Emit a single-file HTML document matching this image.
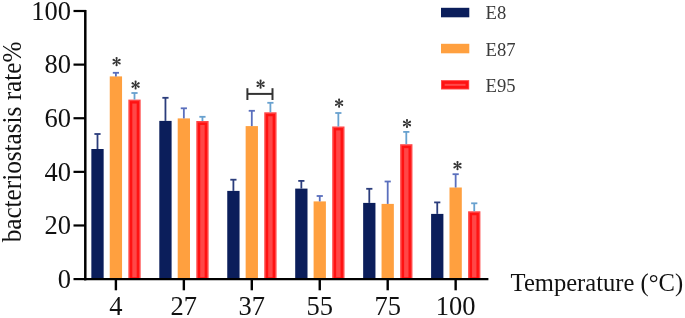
<!DOCTYPE html>
<html><head><meta charset="utf-8"><style>
html,body{margin:0;padding:0;background:#fff;width:685px;height:318px;overflow:hidden}
svg{display:block;font-family:"Liberation Serif",serif;will-change:transform}
</style></head><body>
<svg width="685" height="318" viewBox="0 0 685 318">
<rect x="91.35" y="149.00" width="12.3" height="130.10" fill="#0b1e5b"/>
<line x1="97.50" y1="134.00" x2="97.50" y2="149.00" stroke="#2b3d7c" stroke-width="1.8"/>
<line x1="94.40" y1="134.00" x2="100.60" y2="134.00" stroke="#2b3d7c" stroke-width="1.8"/>
<rect x="109.75" y="76.40" width="12.3" height="202.70" fill="#ffa03f"/>
<line x1="115.90" y1="72.80" x2="115.90" y2="76.40" stroke="#5a6fbd" stroke-width="1.8"/>
<line x1="112.80" y1="72.80" x2="119.00" y2="72.80" stroke="#5a6fbd" stroke-width="1.8"/>
<rect x="128.35" y="99.60" width="12.3" height="179.50" fill="#ff4747"/>
<rect x="131.10" y="102.35" width="6.80" height="176.15" fill="none" stroke="#ff1212" stroke-width="2.4"/>
<line x1="134.50" y1="93.00" x2="134.50" y2="99.60" stroke="#68a1cf" stroke-width="1.8"/>
<line x1="131.40" y1="93.00" x2="137.60" y2="93.00" stroke="#68a1cf" stroke-width="1.8"/>
<rect x="159.30" y="120.90" width="12.3" height="158.20" fill="#0b1e5b"/>
<line x1="165.45" y1="97.80" x2="165.45" y2="120.90" stroke="#2b3d7c" stroke-width="1.8"/>
<line x1="162.35" y1="97.80" x2="168.55" y2="97.80" stroke="#2b3d7c" stroke-width="1.8"/>
<rect x="177.70" y="118.40" width="12.3" height="160.70" fill="#ffa03f"/>
<line x1="183.85" y1="108.30" x2="183.85" y2="118.40" stroke="#5a6fbd" stroke-width="1.8"/>
<line x1="180.75" y1="108.30" x2="186.95" y2="108.30" stroke="#5a6fbd" stroke-width="1.8"/>
<rect x="196.30" y="121.00" width="12.3" height="158.10" fill="#ff4747"/>
<rect x="199.05" y="123.75" width="6.80" height="154.75" fill="none" stroke="#ff1212" stroke-width="2.4"/>
<line x1="202.45" y1="116.80" x2="202.45" y2="121.00" stroke="#68a1cf" stroke-width="1.8"/>
<line x1="199.35" y1="116.80" x2="205.55" y2="116.80" stroke="#68a1cf" stroke-width="1.8"/>
<rect x="227.25" y="190.90" width="12.3" height="88.20" fill="#0b1e5b"/>
<line x1="233.40" y1="179.70" x2="233.40" y2="190.90" stroke="#2b3d7c" stroke-width="1.8"/>
<line x1="230.30" y1="179.70" x2="236.50" y2="179.70" stroke="#2b3d7c" stroke-width="1.8"/>
<rect x="245.65" y="126.10" width="12.3" height="153.00" fill="#ffa03f"/>
<line x1="251.80" y1="110.80" x2="251.80" y2="126.10" stroke="#5a6fbd" stroke-width="1.8"/>
<line x1="248.70" y1="110.80" x2="254.90" y2="110.80" stroke="#5a6fbd" stroke-width="1.8"/>
<rect x="264.25" y="112.30" width="12.3" height="166.80" fill="#ff4747"/>
<rect x="267.00" y="115.05" width="6.80" height="163.45" fill="none" stroke="#ff1212" stroke-width="2.4"/>
<line x1="270.40" y1="102.80" x2="270.40" y2="112.30" stroke="#68a1cf" stroke-width="1.8"/>
<line x1="267.30" y1="102.80" x2="273.50" y2="102.80" stroke="#68a1cf" stroke-width="1.8"/>
<rect x="295.20" y="188.60" width="12.3" height="90.50" fill="#0b1e5b"/>
<line x1="301.35" y1="180.90" x2="301.35" y2="188.60" stroke="#2b3d7c" stroke-width="1.8"/>
<line x1="298.25" y1="180.90" x2="304.45" y2="180.90" stroke="#2b3d7c" stroke-width="1.8"/>
<rect x="313.60" y="201.40" width="12.3" height="77.70" fill="#ffa03f"/>
<line x1="319.75" y1="196.00" x2="319.75" y2="201.40" stroke="#5a6fbd" stroke-width="1.8"/>
<line x1="316.65" y1="196.00" x2="322.85" y2="196.00" stroke="#5a6fbd" stroke-width="1.8"/>
<rect x="332.20" y="126.50" width="12.3" height="152.60" fill="#ff4747"/>
<rect x="334.95" y="129.25" width="6.80" height="149.25" fill="none" stroke="#ff1212" stroke-width="2.4"/>
<line x1="338.35" y1="113.00" x2="338.35" y2="126.50" stroke="#68a1cf" stroke-width="1.8"/>
<line x1="335.25" y1="113.00" x2="341.45" y2="113.00" stroke="#68a1cf" stroke-width="1.8"/>
<rect x="363.15" y="202.90" width="12.3" height="76.20" fill="#0b1e5b"/>
<line x1="369.30" y1="188.80" x2="369.30" y2="202.90" stroke="#2b3d7c" stroke-width="1.8"/>
<line x1="366.20" y1="188.80" x2="372.40" y2="188.80" stroke="#2b3d7c" stroke-width="1.8"/>
<rect x="381.55" y="203.90" width="12.3" height="75.20" fill="#ffa03f"/>
<line x1="387.70" y1="181.50" x2="387.70" y2="203.90" stroke="#5a6fbd" stroke-width="1.8"/>
<line x1="384.60" y1="181.50" x2="390.80" y2="181.50" stroke="#5a6fbd" stroke-width="1.8"/>
<rect x="400.15" y="144.20" width="12.3" height="134.90" fill="#ff4747"/>
<rect x="402.90" y="146.95" width="6.80" height="131.55" fill="none" stroke="#ff1212" stroke-width="2.4"/>
<line x1="406.30" y1="131.90" x2="406.30" y2="144.20" stroke="#68a1cf" stroke-width="1.8"/>
<line x1="403.20" y1="131.90" x2="409.40" y2="131.90" stroke="#68a1cf" stroke-width="1.8"/>
<rect x="431.10" y="213.90" width="12.3" height="65.20" fill="#0b1e5b"/>
<line x1="437.25" y1="202.40" x2="437.25" y2="213.90" stroke="#2b3d7c" stroke-width="1.8"/>
<line x1="434.15" y1="202.40" x2="440.35" y2="202.40" stroke="#2b3d7c" stroke-width="1.8"/>
<rect x="449.50" y="187.50" width="12.3" height="91.60" fill="#ffa03f"/>
<line x1="455.65" y1="174.20" x2="455.65" y2="187.50" stroke="#5a6fbd" stroke-width="1.8"/>
<line x1="452.55" y1="174.20" x2="458.75" y2="174.20" stroke="#5a6fbd" stroke-width="1.8"/>
<rect x="468.10" y="211.30" width="12.3" height="67.80" fill="#ff4747"/>
<rect x="470.85" y="214.05" width="6.80" height="64.45" fill="none" stroke="#ff1212" stroke-width="2.4"/>
<line x1="474.25" y1="203.30" x2="474.25" y2="211.30" stroke="#68a1cf" stroke-width="1.8"/>
<line x1="471.15" y1="203.30" x2="477.35" y2="203.30" stroke="#68a1cf" stroke-width="1.8"/>
<line x1="85.3" y1="10" x2="85.3" y2="280.20000000000005" stroke="#000" stroke-width="2.5"/>
<line x1="84.05" y1="279.1" x2="488.4" y2="279.1" stroke="#000" stroke-width="2.2"/>
<line x1="73.5" y1="279.10" x2="86" y2="279.10" stroke="#000" stroke-width="2.2"/>
<text x="71.0" y="287.80" text-anchor="end" font-family="Liberation Serif" font-size="26.5" fill="#111">0</text>
<line x1="73.5" y1="225.48" x2="86" y2="225.48" stroke="#000" stroke-width="2.2"/>
<text x="71.0" y="234.18" text-anchor="end" font-family="Liberation Serif" font-size="26.5" fill="#111">20</text>
<line x1="73.5" y1="171.86" x2="86" y2="171.86" stroke="#000" stroke-width="2.2"/>
<text x="71.0" y="180.56" text-anchor="end" font-family="Liberation Serif" font-size="26.5" fill="#111">40</text>
<line x1="73.5" y1="118.24" x2="86" y2="118.24" stroke="#000" stroke-width="2.2"/>
<text x="71.0" y="126.94" text-anchor="end" font-family="Liberation Serif" font-size="26.5" fill="#111">60</text>
<line x1="73.5" y1="64.62" x2="86" y2="64.62" stroke="#000" stroke-width="2.2"/>
<text x="71.0" y="73.32" text-anchor="end" font-family="Liberation Serif" font-size="26.5" fill="#111">80</text>
<line x1="73.5" y1="11.00" x2="86" y2="11.00" stroke="#000" stroke-width="2.2"/>
<text x="71.0" y="19.70" text-anchor="end" font-family="Liberation Serif" font-size="26.5" fill="#111">100</text>
<line x1="115.90" y1="279.1" x2="115.90" y2="290.3" stroke="#000" stroke-width="2.4"/>
<text x="115.90" y="315.3" text-anchor="middle" font-family="Liberation Serif" font-size="26.5" fill="#111">4</text>
<line x1="183.85" y1="279.1" x2="183.85" y2="290.3" stroke="#000" stroke-width="2.4"/>
<text x="183.85" y="315.3" text-anchor="middle" font-family="Liberation Serif" font-size="26.5" fill="#111">27</text>
<line x1="251.80" y1="279.1" x2="251.80" y2="290.3" stroke="#000" stroke-width="2.4"/>
<text x="251.80" y="315.3" text-anchor="middle" font-family="Liberation Serif" font-size="26.5" fill="#111">37</text>
<line x1="319.75" y1="279.1" x2="319.75" y2="290.3" stroke="#000" stroke-width="2.4"/>
<text x="319.75" y="315.3" text-anchor="middle" font-family="Liberation Serif" font-size="26.5" fill="#111">55</text>
<line x1="387.70" y1="279.1" x2="387.70" y2="290.3" stroke="#000" stroke-width="2.4"/>
<text x="387.70" y="315.3" text-anchor="middle" font-family="Liberation Serif" font-size="26.5" fill="#111">75</text>
<line x1="455.65" y1="279.1" x2="455.65" y2="290.3" stroke="#000" stroke-width="2.4"/>
<text x="455.65" y="315.3" text-anchor="middle" font-family="Liberation Serif" font-size="26.5" fill="#111">100</text>
<text transform="translate(510.6,290.7) scale(0.964,1)" x="0" y="0" font-family="Liberation Serif" font-size="25.5" fill="#111">Temperature (°C)</text>
<text transform="translate(20.8,142) rotate(-90) scale(0.9,1)" text-anchor="middle" font-family="Liberation Serif" font-size="28" fill="#111">bacteriostasis rate%</text>
<rect x="441" y="7.8" width="28.3" height="9.5" fill="#0b1e5b"/>
<text x="485.6" y="19.30" font-family="Liberation Serif" font-size="18.6" fill="#3a3a3a">E8</text>
<rect x="441" y="43.8" width="28.3" height="9.5" fill="#ffa03f"/>
<text x="485.6" y="55.60" font-family="Liberation Serif" font-size="18.6" fill="#3a3a3a">E87</text>
<rect x="441" y="80.1" width="28.2" height="9.4" fill="#ff4a4a"/>
<rect x="443.3" y="82.5" width="23.6" height="4.7" fill="none" stroke="#ff1212" stroke-width="2.7"/>
<text x="485.6" y="92.00" font-family="Liberation Serif" font-size="18.6" fill="#3a3a3a">E95</text>
<g stroke="#333" stroke-width="2" fill="none"><line x1="247.4" y1="93.9" x2="272.5" y2="93.9"/><line x1="247.4" y1="88.2" x2="247.4" y2="100"/><line x1="272.5" y1="88.2" x2="272.5" y2="100"/></g>
<g fill="#333" transform="translate(116.60,61.60)"><path d="M0,-0.35 L3.3,-1.0 A1.03,1.03 0 1 1 3.3,1.0 L0,0.35 Z" transform="rotate(-90)"/><path d="M0,-0.35 L3.3,-1.0 A1.03,1.03 0 1 1 3.3,1.0 L0,0.35 Z" transform="rotate(-30)"/><path d="M0,-0.35 L3.3,-1.0 A1.03,1.03 0 1 1 3.3,1.0 L0,0.35 Z" transform="rotate(30)"/><path d="M0,-0.35 L3.3,-1.0 A1.03,1.03 0 1 1 3.3,1.0 L0,0.35 Z" transform="rotate(90)"/><path d="M0,-0.35 L3.3,-1.0 A1.03,1.03 0 1 1 3.3,1.0 L0,0.35 Z" transform="rotate(150)"/><path d="M0,-0.35 L3.3,-1.0 A1.03,1.03 0 1 1 3.3,1.0 L0,0.35 Z" transform="rotate(210)"/></g>
<g fill="#333" transform="translate(135.60,85.00)"><path d="M0,-0.35 L3.3,-1.0 A1.03,1.03 0 1 1 3.3,1.0 L0,0.35 Z" transform="rotate(-90)"/><path d="M0,-0.35 L3.3,-1.0 A1.03,1.03 0 1 1 3.3,1.0 L0,0.35 Z" transform="rotate(-30)"/><path d="M0,-0.35 L3.3,-1.0 A1.03,1.03 0 1 1 3.3,1.0 L0,0.35 Z" transform="rotate(30)"/><path d="M0,-0.35 L3.3,-1.0 A1.03,1.03 0 1 1 3.3,1.0 L0,0.35 Z" transform="rotate(90)"/><path d="M0,-0.35 L3.3,-1.0 A1.03,1.03 0 1 1 3.3,1.0 L0,0.35 Z" transform="rotate(150)"/><path d="M0,-0.35 L3.3,-1.0 A1.03,1.03 0 1 1 3.3,1.0 L0,0.35 Z" transform="rotate(210)"/></g>
<g fill="#333" transform="translate(260.60,84.20)"><path d="M0,-0.35 L3.3,-1.0 A1.03,1.03 0 1 1 3.3,1.0 L0,0.35 Z" transform="rotate(-90)"/><path d="M0,-0.35 L3.3,-1.0 A1.03,1.03 0 1 1 3.3,1.0 L0,0.35 Z" transform="rotate(-30)"/><path d="M0,-0.35 L3.3,-1.0 A1.03,1.03 0 1 1 3.3,1.0 L0,0.35 Z" transform="rotate(30)"/><path d="M0,-0.35 L3.3,-1.0 A1.03,1.03 0 1 1 3.3,1.0 L0,0.35 Z" transform="rotate(90)"/><path d="M0,-0.35 L3.3,-1.0 A1.03,1.03 0 1 1 3.3,1.0 L0,0.35 Z" transform="rotate(150)"/><path d="M0,-0.35 L3.3,-1.0 A1.03,1.03 0 1 1 3.3,1.0 L0,0.35 Z" transform="rotate(210)"/></g>
<g fill="#333" transform="translate(339.10,103.10)"><path d="M0,-0.35 L3.3,-1.0 A1.03,1.03 0 1 1 3.3,1.0 L0,0.35 Z" transform="rotate(-90)"/><path d="M0,-0.35 L3.3,-1.0 A1.03,1.03 0 1 1 3.3,1.0 L0,0.35 Z" transform="rotate(-30)"/><path d="M0,-0.35 L3.3,-1.0 A1.03,1.03 0 1 1 3.3,1.0 L0,0.35 Z" transform="rotate(30)"/><path d="M0,-0.35 L3.3,-1.0 A1.03,1.03 0 1 1 3.3,1.0 L0,0.35 Z" transform="rotate(90)"/><path d="M0,-0.35 L3.3,-1.0 A1.03,1.03 0 1 1 3.3,1.0 L0,0.35 Z" transform="rotate(150)"/><path d="M0,-0.35 L3.3,-1.0 A1.03,1.03 0 1 1 3.3,1.0 L0,0.35 Z" transform="rotate(210)"/></g>
<g fill="#333" transform="translate(407.00,123.50)"><path d="M0,-0.35 L3.3,-1.0 A1.03,1.03 0 1 1 3.3,1.0 L0,0.35 Z" transform="rotate(-90)"/><path d="M0,-0.35 L3.3,-1.0 A1.03,1.03 0 1 1 3.3,1.0 L0,0.35 Z" transform="rotate(-30)"/><path d="M0,-0.35 L3.3,-1.0 A1.03,1.03 0 1 1 3.3,1.0 L0,0.35 Z" transform="rotate(30)"/><path d="M0,-0.35 L3.3,-1.0 A1.03,1.03 0 1 1 3.3,1.0 L0,0.35 Z" transform="rotate(90)"/><path d="M0,-0.35 L3.3,-1.0 A1.03,1.03 0 1 1 3.3,1.0 L0,0.35 Z" transform="rotate(150)"/><path d="M0,-0.35 L3.3,-1.0 A1.03,1.03 0 1 1 3.3,1.0 L0,0.35 Z" transform="rotate(210)"/></g>
<g fill="#333" transform="translate(457.50,165.60)"><path d="M0,-0.35 L3.3,-1.0 A1.03,1.03 0 1 1 3.3,1.0 L0,0.35 Z" transform="rotate(-90)"/><path d="M0,-0.35 L3.3,-1.0 A1.03,1.03 0 1 1 3.3,1.0 L0,0.35 Z" transform="rotate(-30)"/><path d="M0,-0.35 L3.3,-1.0 A1.03,1.03 0 1 1 3.3,1.0 L0,0.35 Z" transform="rotate(30)"/><path d="M0,-0.35 L3.3,-1.0 A1.03,1.03 0 1 1 3.3,1.0 L0,0.35 Z" transform="rotate(90)"/><path d="M0,-0.35 L3.3,-1.0 A1.03,1.03 0 1 1 3.3,1.0 L0,0.35 Z" transform="rotate(150)"/><path d="M0,-0.35 L3.3,-1.0 A1.03,1.03 0 1 1 3.3,1.0 L0,0.35 Z" transform="rotate(210)"/></g>
</svg>
</body></html>
